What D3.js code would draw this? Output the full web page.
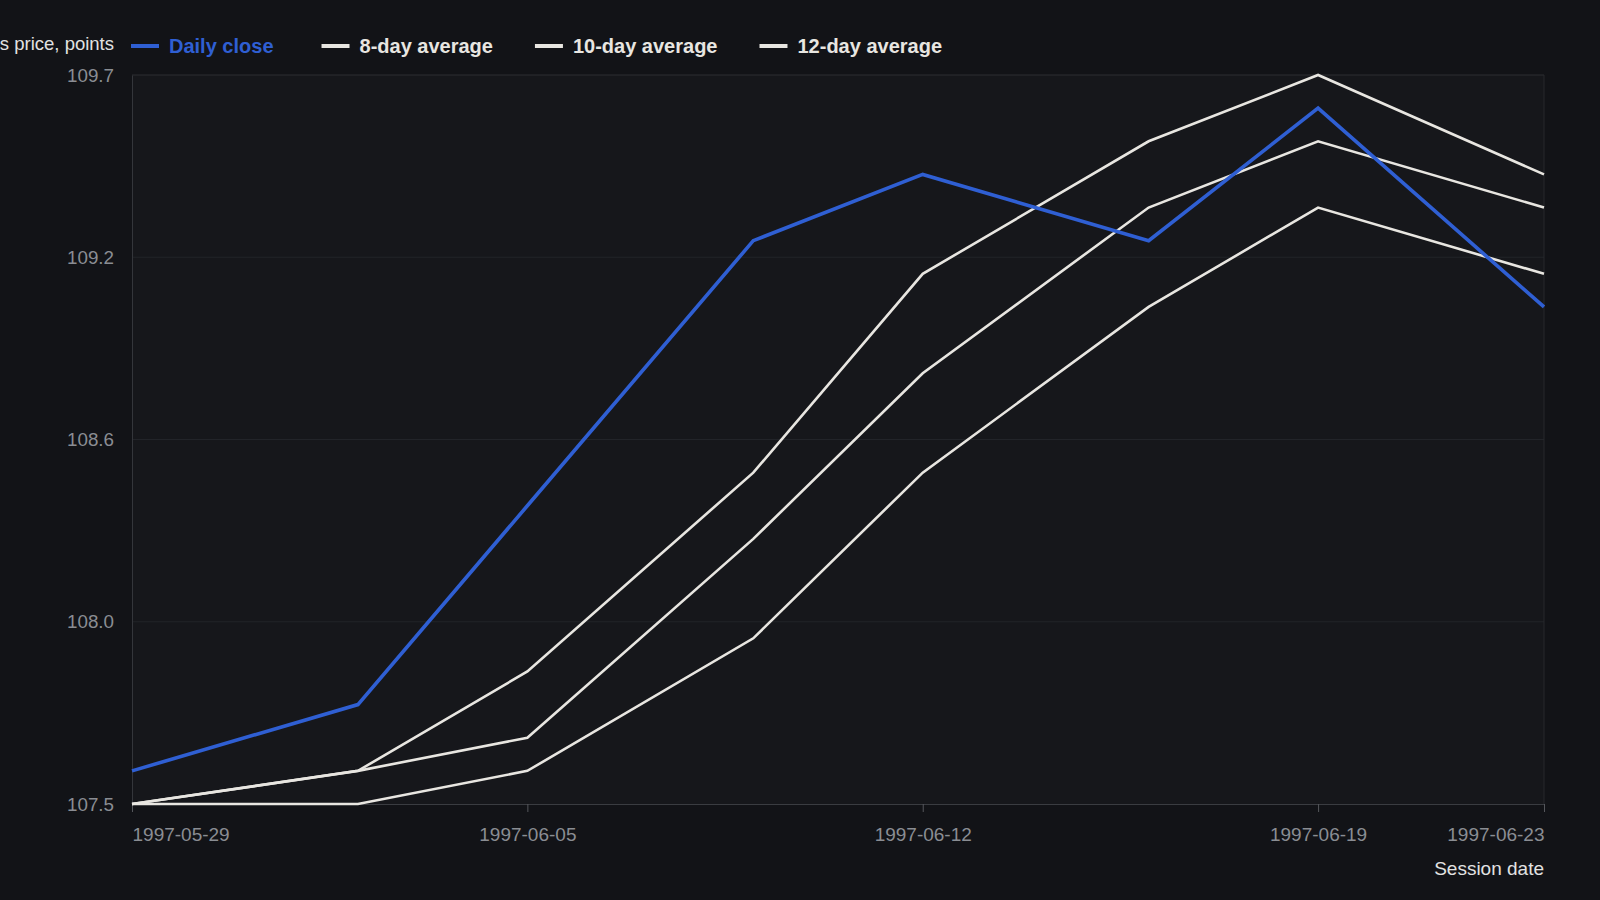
<!DOCTYPE html>
<html>
<head>
<meta charset="utf-8">
<script src="https://cdn.jsdelivr.net/npm/d3@7"></script>
<style>
  html, body { margin: 0; padding: 0; background: #121317; }
  svg { display: block; font-family: "Liberation Sans", Arial, sans-serif; }
</style>
</head>
<body>
<svg id="chart" width="1600" height="900"></svg>
<script>
// session dates (twice a week)
const sessionDates = ["1997-05-29", "1997-06-02", "1997-06-05", "1997-06-09",
                      "1997-06-12", "1997-06-16", "1997-06-19", "1997-06-23"];

const dailyClose = [107.6, 107.8, 108.4, 109.2, 109.4, 109.2, 109.6, 109.0];
const avg8  = [107.5, 107.6, 107.9, 108.5, 109.1, 109.5, 109.7, 109.4];
const avg10 = [107.5, 107.6, 107.7, 108.3, 108.8, 109.3, 109.5, 109.3];
const avg12 = [107.5, 107.5, 107.6, 108.0, 108.5, 109.0, 109.3, 109.1];

const seriesNames = ["Daily close", "8-day average", "10-day average", "12-day average"];

const xTickDates = ["1997-05-29", "1997-06-05", "1997-06-12", "1997-06-19", "1997-06-23"];
const yTickLabels = ["107.5", "108.0", "108.6", "109.2", "109.7"];

const parse = d3.timeParse("%Y-%m-%d");

const width = 1600, height = 900;
const margin = {top: 75, right: 56, bottom: 96, left: 132};

const svg = d3.select("#chart");

const x = d3.scaleTime()
    .domain(d3.extent(sessionDates, parse))
    .range([margin.left, width - margin.right]);

const y = d3.scaleLinear()
    .domain([107.5, 109.7])
    .range([height - margin.bottom, margin.top]);

const yTickValues = yTickLabels.map((d, i) =>
    y.domain()[0] + i * (y.domain()[1] - y.domain()[0]) / (yTickLabels.length - 1));

// plot background
svg.append("rect")
    .attr("x", margin.left)
    .attr("y", margin.top)
    .attr("width", width - margin.left - margin.right)
    .attr("height", height - margin.top - margin.bottom)
    .attr("fill", "#16171b");

// grid
svg.append("g")
    .selectAll("line")
    .data(yTickValues.slice(1))
    .enter().append("line")
    .attr("x1", margin.left)
    .attr("x2", width - margin.right)
    .attr("y1", d => y(d))
    .attr("y2", d => y(d))
    .attr("stroke", (d, i) => i == yTickValues.length - 2 ? "#2c2e33" : "#222429")
    .attr("stroke-width", 1);

svg.append("line")
    .attr("x1", width - margin.right)
    .attr("x2", width - margin.right)
    .attr("y1", margin.top)
    .attr("y2", height - margin.bottom)
    .attr("stroke", "#26282d");

// y axis
const yAxis = svg.append("g")
    .attr("transform", `translate(${margin.left},0)`)
    .call(d3.axisLeft(y)
        .tickValues(yTickValues)
        .tickFormat((d, i) => yTickLabels[i])
        .tickSize(0)
        .tickPadding(18));
yAxis.select(".domain").attr("stroke", "#34363b");
yAxis.selectAll("text")
    .attr("fill", "#8a8d93")
    .attr("font-size", 18.8);

// x axis
const xTicks = xTickDates.map(parse);
const xAxis = svg.append("g")
    .attr("transform", `translate(0,${height - margin.bottom})`)
    .call(d3.axisBottom(x)
        .tickValues(xTicks)
        .tickFormat(d3.timeFormat("%Y-%m-%d"))
        .tickSize(8)
        .tickPadding(16));
xAxis.select(".domain").attr("stroke", "#3a3c41");
xAxis.selectAll(".tick line").attr("stroke", "#55575c");
xAxis.selectAll("text")
    .attr("fill", "#8a8d93")
    .attr("font-size", 19)
    .attr("text-anchor", (d, i) => i == 0 ? "start" : (i == xTicks.length - 1 ? "end" : "middle"));

// axis titles
svg.append("text")
    .attr("x", width - margin.right)
    .attr("y", height - 25)
    .attr("text-anchor", "end")
    .attr("fill", "#e2e2e2")
    .attr("font-size", 19)
    .text("Session date");

svg.append("text")
    .attr("x", 114)
    .attr("y", 50)
    .attr("text-anchor", "end")
    .attr("fill", "#e2e2e2")
    .attr("font-size", 18.5)
    .text("Futures price, points");

// lines
const series = [
    {name: seriesNames[1], values: avg8,  color: "#e8e6e1", width: 2.6},
    {name: seriesNames[2], values: avg10, color: "#e8e6e1", width: 2.6},
    {name: seriesNames[3], values: avg12, color: "#e8e6e1", width: 2.6},
    {name: seriesNames[0], values: dailyClose, color: "#2f5fd3", width: 3.6},
];

const line = d3.line()
    .x((d, i) => x(parse(sessionDates[i])))
    .y(d => y(d));

svg.append("g")
    .selectAll("path")
    .data(series)
    .enter().append("path")
    .attr("d", d => line(d.values))
    .attr("fill", "none")
    .attr("stroke", d => d.color)
    .attr("stroke-width", d => d.width)
    .attr("stroke-linejoin", "miter");

// legend
const legendItems = [series[3], series[0], series[1], series[2]];
const legend = svg.append("g").attr("transform", "translate(131,46)");
let lx = 0;
legendItems.forEach((d, i) => {
    const g = legend.append("g").attr("transform", `translate(${lx},0)`);
    g.append("line")
        .attr("x1", 0).attr("x2", 28)
        .attr("y1", 0).attr("y2", 0)
        .attr("stroke", d.color)
        .attr("stroke-width", 4);
    const t = g.append("text")
        .attr("x", 38)
        .attr("y", 7)
        .attr("fill", i == 0 ? "#2f5fd3" : "#e8e6e1")
        .attr("font-size", 20)
        .attr("font-weight", "bold")
        .text(d.name);
    lx += 38 + t.node().getComputedTextLength() + (i == 0 ? 48 : 42);
});
</script>
</body>
</html>
